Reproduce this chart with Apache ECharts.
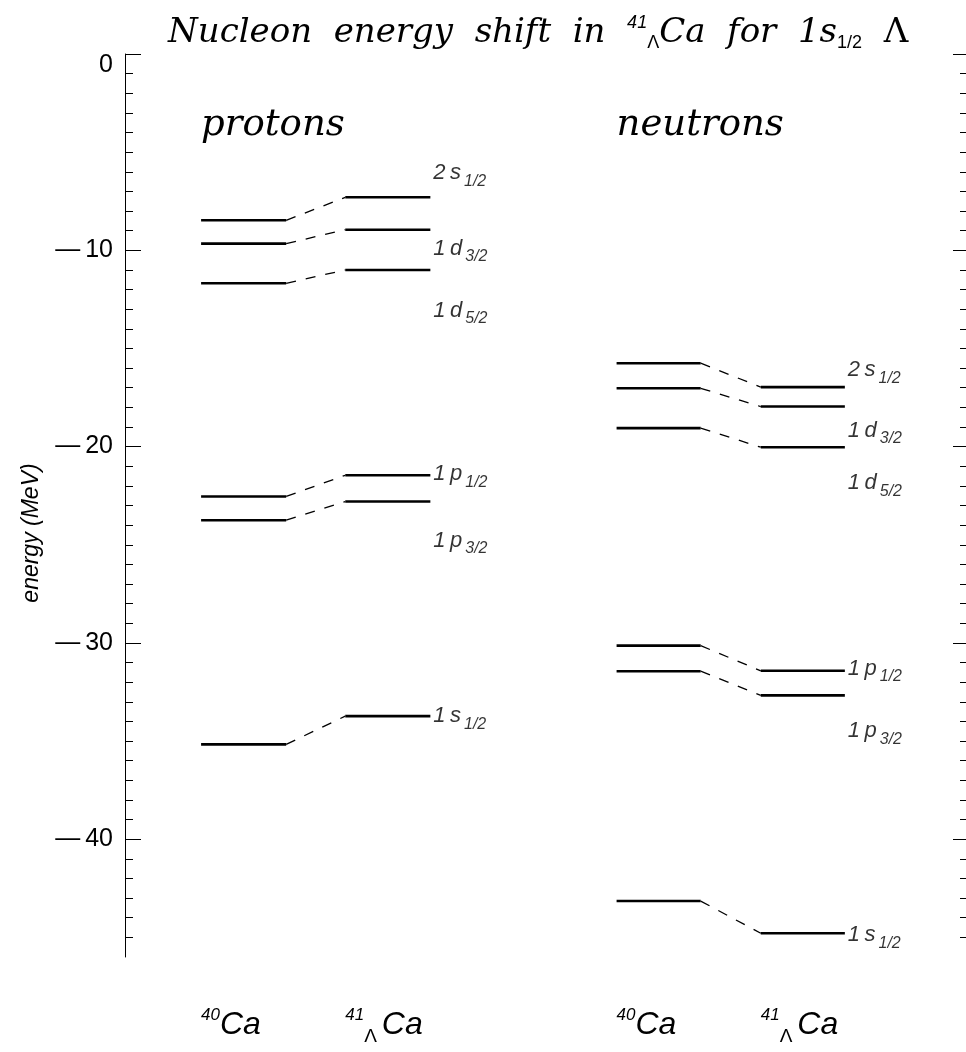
<!DOCTYPE html>
<html>
<head>
<meta charset="utf-8">
<script src="https://cdn.jsdelivr.net/npm/echarts@6/dist/echarts.min.js"></script>
<style>
  html, body { margin: 0; padding: 0; background: #fff; }
  #main { width: 966px; height: 1052px; }
</style>
</head>
<body>
<div id="main"></div>
<script>
// single-particle levels (MeV)
const stateMain = ["2s", "1d", "1d", "1p", "1p", "1s"];
const stateSub = ["1/2", "3/2", "5/2", "1/2", "3/2", "1/2"];
const proton40 = [-8.47, -9.66, -11.68, -22.54, -23.75, -35.17];
const proton41 = [-7.30, -8.95, -11.00, -21.46, -22.80, -33.73];
const neutron40 = [-15.75, -17.03, -19.06, -30.14, -31.44, -43.15];
const neutron41 = [-16.97, -17.96, -20.03, -31.42, -32.67, -44.79];
const yTicks = [0, -10, -20, -30, -40];

// layout: x spans of the level columns (hidden x axis units) and label shifts
const protonCols = [3.8, 8.05, 11.0, 15.25];
const neutronCols = [24.55, 28.75, 31.75, 35.95];
const protonLabelDy = [-28, 15, 37, -5, 35, -4];
const neutronLabelDy = [-21, 20, 32, -6, 32, -2];

const serif = "DejaVu Serif";
const sans = "Liberation Sans";

function levelSeries(name, e40, e41, cols) {
  return {
    name: name,
    type: "custom",
    xAxisIndex: 0,
    yAxisIndex: 0,
    clip: false,
    silent: true,
    encode: { x: 0, y: 1 },
    data: e40.map((v, i) => [v, e41[i]]),
    renderItem: function (params, api) {
      const a = api.coord([cols[0], api.value(0)]);
      const b = api.coord([cols[1], api.value(0)]);
      const c = api.coord([cols[2], api.value(1)]);
      const d = api.coord([cols[3], api.value(1)]);
      const solid = { stroke: "#000", lineWidth: 2.6 };
      return {
        type: "group",
        children: [
          { type: "line", shape: { x1: a[0], y1: a[1], x2: b[0], y2: b[1] }, style: solid },
          { type: "line", shape: { x1: b[0], y1: b[1], x2: c[0], y2: c[1] },
            style: { stroke: "#000", lineWidth: 1.3, lineDash: [10, 10] } },
          { type: "line", shape: { x1: c[0], y1: c[1], x2: d[0], y2: d[1] }, style: solid },
        ],
      };
    },
  };
}

function labelSeries(name, e41, cols, dys) {
  return {
    name: name,
    type: "scatter",
    symbolSize: 0,
    silent: true,
    data: e41.map((v, i) => ({
      value: [cols[3], v],
      label: { offset: [0, dys[i] + 4] },
      main: stateMain[i],
      sub: stateSub[i],
    })),
    label: {
      show: true,
      position: "right",
      distance: 3,
      formatter: (p) => `{m|${p.data.main.split("").join("\u2009")}}{s|${p.data.sub}}`,
      rich: {
        m: { fontFamily: sans, fontStyle: "italic", fontSize: 22, lineHeight: 22,
             verticalAlign: "top", color: "#000" },
        s: { fontFamily: sans, fontStyle: "italic", fontSize: 16, lineHeight: 14,
             padding: [16, 0, 0, 3], color: "#000" },
      },
    },
  };
}

const yAxisBase = {
  type: "value",
  min: -46,
  max: 0,
  axisLine: { show: true, lineStyle: { color: "#000", width: 1 } },
  axisTick: { show: true, inside: true, length: 16, customValues: yTicks,
              lineStyle: { color: "#000", width: 1 } },
  minorTick: { show: true, splitNumber: 10, length: 8, lineStyle: { color: "#000", width: 1 } },
  splitLine: { show: false },
};

const chart = echarts.init(document.getElementById("main"));
chart.setOption({
  animation: false,
  backgroundColor: "#fff",
  title: {
    text: "Nucleon  energy  shift  in  {sup|41}{sub|Λ}Ca  for  1s{sub|1/2}  {L|Λ}",
    left: 163,
    top: 5,
    textStyle: {
      fontFamily: serif, fontStyle: "italic", fontWeight: "normal", fontSize: 34,
      lineHeight: 46, color: "#000",
      rich: {
        sup: { fontFamily: sans, fontStyle: "italic", fontSize: 18, lineHeight: 18,
               padding: [0, 0, 20, 0], color: "#000" },
        sub: { fontFamily: sans, fontStyle: "normal", fontSize: 18, lineHeight: 18,
               padding: [20, 0, 0, 0], color: "#000" },
        L: { fontFamily: serif, fontStyle: "normal", fontSize: 34, lineHeight: 46, color: "#000" },
      },
    },
  },
  grid: { left: 125, right: -1, top: 54, bottom: 95, containLabel: false },
  xAxis: { type: "value", min: 0, max: 42, show: false },
  yAxis: [
    Object.assign({}, yAxisBase, {
      position: "left",
      axisLabel: {
        show: true, customValues: yTicks, margin: 12, color: "#000",
        fontFamily: sans, fontSize: 25,
        formatter: (v) => (v < 0 ? "\u2014\u2009" + (-v) : "{z|0}"),
        rich: { z: { fontFamily: sans, fontSize: 25, color: "#000", padding: [22, 0, 0, 0] } },
      },
    }),
    Object.assign({}, yAxisBase, {
      position: "right",
      axisTick: Object.assign({}, yAxisBase.axisTick, { length: 13 }),
      minorTick: Object.assign({}, yAxisBase.minorTick, { length: 6 }),
      axisLabel: { show: false },
    }),
  ],
  series: [
    levelSeries("protons", proton40, proton41, protonCols),
    levelSeries("neutrons", neutron40, neutron41, neutronCols),
    labelSeries("proton states", proton41, protonCols, protonLabelDy),
    labelSeries("neutron states", neutron41, neutronCols, neutronLabelDy),
  ],
});

// headings and nucleus names, placed at the column starts
function colX(x) {
  return chart.convertToPixel({ gridIndex: 0 }, [x, 0])[0];
}
const nucRich = {
  sup: { fontFamily: sans, fontStyle: "italic", fontSize: 17, lineHeight: 17,
         padding: [0, 0, 20, 0], fill: "#000" },
  sub: { fontFamily: sans, fontStyle: "normal", fontSize: 19, lineHeight: 19,
         padding: [24, 5, 0, 0], fill: "#000" },
};
function nucleus(x, text) {
  return {
    type: "text",
    x: x,
    y: 1025,
    style: {
      text: text,
      fontFamily: sans, fontStyle: "italic", fontSize: 32, lineHeight: 44,
      fill: "#000", verticalAlign: "middle", rich: nucRich,
    },
  };
}
function heading(x, text) {
  return {
    type: "text",
    x: x,
    y: 125,
    style: {
      text: text, fontFamily: serif, fontStyle: "italic", fontSize: 37,
      fill: "#000", verticalAlign: "middle",
    },
  };
}
chart.setOption({
  graphic: [
    heading(colX(protonCols[0]), "protons"),
    heading(colX(neutronCols[0]), "neutrons"),
    nucleus(colX(protonCols[0]), "{sup|40}Ca"),
    nucleus(colX(protonCols[2]), "{sup|41}{sub|Λ}Ca"),
    nucleus(colX(neutronCols[0]), "{sup|40}Ca"),
    nucleus(colX(neutronCols[2]), "{sup|41}{sub|Λ}Ca"),
    {
      type: "text",
      x: 32,
      y: 533,
      rotation: Math.PI / 2,
      style: {
        text: "energy (MeV)", fontFamily: sans, fontStyle: "italic", fontSize: 23,
        fill: "#000", align: "center", verticalAlign: "middle",
      },
    },
  ],
});
</script>
</body>
</html>
